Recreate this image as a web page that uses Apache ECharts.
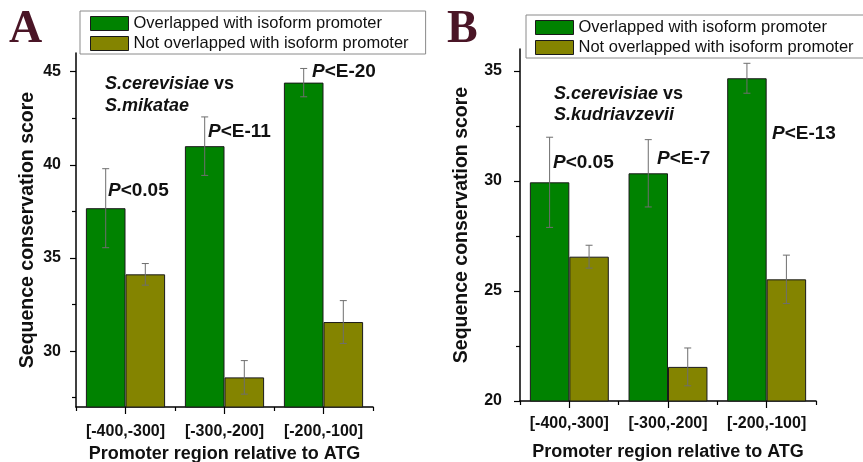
<!DOCTYPE html>
<html>
<head>
<meta charset="utf-8">
<script src="https://cdn.jsdelivr.net/npm/echarts@6/dist/echarts.min.js"></script>
<style>
  html, body { margin: 0; padding: 0; background: #fff; }
  #chart { width: 863px; height: 462px; }
</style>
</head>
<body>
<div id="chart"></div>
<script>
// Promoter windows relative to the start codon
const categories = ['[-400,-300]', '[-300,-200]', '[-200,-100]'];
const seriesNames = ['Overlapped with isoform promoter', 'Not overlapped with isoform promoter'];

// Panel A: S.cerevisiae vs S.mikatae (mean score and error)
const mikataeOverlap = [37.67, 41.0, 44.41];
const mikataeOverlapErr = [2.12, 1.57, 0.76];
const mikataeNot = [34.12, 28.59, 31.56];
const mikataeNotErr = [0.58, 0.9, 1.15];

// Panel B: S.cerevisiae vs S.kudriavzevii (mean score and error)
const kudriOverlap = [29.94, 30.35, 34.67];
const kudriOverlapErr = [2.05, 1.53, 0.68];
const kudriNot = [26.56, 21.55, 25.53];
const kudriNotErr = [0.52, 0.86, 1.1];

// Value-axis ticks
const ticksA = [30, 35, 40, 45];
const minorTicksA = [27.5, 32.5, 37.5, 42.5];
const ticksB = [20, 25, 30, 35];
const minorTicksB = [22.5, 27.5, 32.5];

// Significance of the difference in each window
const pValuesA = ['<0.05', '<E-11', '<E-20'];
const pValuesB = ['<0.05', '<E-7', '<E-13'];

const FONT = '"Liberation Sans", Arial, sans-serif';
const GREEN = '#008200';
const OLIVE = '#848400';
const INK = '#111';

const chart = echarts.init(document.getElementById('chart'), null, { renderer: 'canvas' });

function mainXAxis(gridIndex, labelMargin, nameGap) {
  return {
    type: 'category', gridIndex, data: categories, position: 'bottom',
    axisLine: { lineStyle: { color: '#000', width: 1.5 } },
    axisTick: { show: true, interval: 0, alignWithLabel: true, length: 7, lineStyle: { color: '#000', width: 1.2 } },
    axisLabel: { interval: 0, fontFamily: FONT, fontWeight: 'bold', fontSize: 16, color: INK, margin: labelMargin },
    name: 'Promoter region relative to ATG', nameLocation: 'middle', nameGap,
    nameTextStyle: { fontFamily: FONT, fontWeight: 'bold', fontSize: 18, color: INK },
    splitLine: { show: false }
  };
}
// Shorter ticks on the category boundaries
function boundaryXAxis(gridIndex) {
  return {
    type: 'category', gridIndex, data: categories, position: 'bottom',
    axisLine: { show: false },
    axisTick: { show: true, interval: 0, alignWithLabel: false, length: 4, lineStyle: { color: '#000', width: 1.2 } },
    axisLabel: { show: false, interval: 0 }, splitLine: { show: false }
  };
}
function mainYAxis(gridIndex, min, max, ticks, labelMargin, nameGap) {
  return {
    type: 'value', gridIndex, min, max, position: 'left',
    axisLine: { show: true, lineStyle: { color: '#000', width: 1.5 } },
    axisTick: { show: true, customValues: ticks, length: 6, lineStyle: { color: '#000', width: 1.2 } },
    axisLabel: { customValues: ticks, fontFamily: FONT, fontWeight: 'bold', fontSize: 16, color: INK, margin: labelMargin },
    splitLine: { show: false },
    name: 'Sequence conservation score', nameLocation: 'middle', nameGap,
    nameTextStyle: { fontFamily: FONT, fontWeight: 'bold', fontSize: 19.5, color: INK }
  };
}
function minorYAxis(gridIndex, min, max, ticks) {
  return {
    type: 'value', gridIndex, min, max, position: 'left',
    axisLine: { show: false },
    axisTick: { show: true, customValues: ticks, length: 4, lineStyle: { color: '#000', width: 1.2 } },
    axisLabel: { show: false }, splitLine: { show: false }
  };
}

function barSeries(name, axisIdx, values, color) {
  return {
    name, type: 'bar', xAxisIndex: axisIdx, yAxisIndex: axisIdx,
    data: values, barGap: '0%', barCategoryGap: '20%',
    itemStyle: { color, borderColor: '#1a1a1a', borderWidth: 1 },
    emphasis: { disabled: true }, animation: false
  };
}

// Error bars drawn over the bars; side -1 = left bar of a pair, +1 = right bar
function errorSeries(axisIdx, means, errs, side) {
  return {
    type: 'custom', xAxisIndex: axisIdx, yAxisIndex: axisIdx, z: 10, silent: true, animation: false,
    encode: { x: 0, y: 1 },
    data: means.map((m, i) => [i, m, errs[i]]),
    renderItem(params, api) {
      const i = api.value(0), m = api.value(1), e = api.value(2);
      const band = api.size([1, 0])[0];
      const x = api.coord([i, m])[0] + side * band * 0.2;
      const yTop = api.coord([i, m + e])[1];
      const yBot = api.coord([i, m - e])[1];
      const cap = 3.5;
      const style = { stroke: '#6e6e6e', lineWidth: 1 };
      return {
        type: 'group',
        children: [
          { type: 'line', shape: { x1: x, y1: yTop, x2: x, y2: yBot }, style },
          { type: 'line', shape: { x1: x - cap, y1: yTop, x2: x + cap, y2: yTop }, style },
          { type: 'line', shape: { x1: x - cap, y1: yBot, x2: x + cap, y2: yBot }, style }
        ]
      };
    }
  };
}

function legend(left, top, padding) {
  return {
    left, top, orient: 'vertical', selectedMode: false, icon: 'rect',
    borderColor: '#8a8a8a', borderWidth: 1, padding,
    itemWidth: 38, itemHeight: 14, itemGap: 3,
    itemStyle: { borderColor: '#1a1a1a', borderWidth: 1 },
    textStyle: { fontFamily: FONT, fontSize: 16.5, color: INK, lineHeight: 17 },
    data: seriesNames
  };
}

const richP = {
  p: { fontFamily: FONT, fontWeight: 'bold', fontStyle: 'italic', fontSize: 19, fill: INK },
  t: { fontFamily: FONT, fontWeight: 'bold', fontSize: 19, fill: INK }
};
const richS = {
  i: { fontFamily: FONT, fontWeight: 'bold', fontStyle: 'italic', fontSize: 18, fill: INK },
  n: { fontFamily: FONT, fontWeight: 'bold', fontSize: 18, fill: INK }
};
function pText(x, y, value) {
  return { type: 'text', x, y, z: 20, style: { text: '{p|P}{t|' + value + '}', rich: richP, verticalAlign: 'middle' } };
}
function sText(x, y, text) {
  return { type: 'text', x, y, z: 20, style: { text, rich: richS, verticalAlign: 'middle' } };
}
function panelLetter(x, y, letter) {
  return { type: 'text', x, y, style: { text: letter, font: 'bold 46px "Liberation Serif", "Times New Roman", serif', fill: '#4a1526', verticalAlign: 'top' } };
}

const option = {
  backgroundColor: '#fff',
  animation: false,
  grid: [
    { left: 76, top: 53, width: 297, height: 354, containLabel: false, outerBoundsMode: 'none' },
    { left: 520, top: 49, width: 296, height: 352, containLabel: false, outerBoundsMode: 'none' }
  ],
  xAxis: [
    mainXAxis(0, 17, 37), boundaryXAxis(0),
    mainXAxis(1, 15, 42), boundaryXAxis(1)
  ],
  yAxis: [
    mainYAxis(0, 27, 46, ticksA, 15, 38), minorYAxis(0, 27, 46, minorTicksA),
    mainYAxis(1, 20, 36, ticksB, 18, 48), minorYAxis(1, 20, 36, minorTicksB)
  ],
  legend: [
    legend(80, 11, [4, 17, 2, 10]),
    legend(526, 15, [4, 10, 2, 9])
  ],
  series: [
    barSeries(seriesNames[0], 0, mikataeOverlap, GREEN),
    barSeries(seriesNames[1], 0, mikataeNot, OLIVE),
    errorSeries(0, mikataeOverlap, mikataeOverlapErr, -1),
    errorSeries(0, mikataeNot, mikataeNotErr, 1),
    barSeries(seriesNames[0], 2, kudriOverlap, GREEN),
    barSeries(seriesNames[1], 2, kudriNot, OLIVE),
    errorSeries(2, kudriOverlap, kudriOverlapErr, -1),
    errorSeries(2, kudriNot, kudriNotErr, 1)
  ],
  graphic: [
    panelLetter(9, 7, 'A'),
    panelLetter(447, 7, 'B'),
    sText(105, 84, '{i|S.cerevisiae}{n| vs}'),
    sText(105, 106, '{i|S.mikatae}'),
    pText(108, 191, pValuesA[0]),
    pText(208, 132, pValuesA[1]),
    pText(312, 72, pValuesA[2]),
    sText(554, 94, '{i|S.cerevisiae}{n| vs}'),
    sText(554, 115, '{i|S.kudriavzevii}'),
    pText(553, 163, pValuesB[0]),
    pText(657, 159, pValuesB[1]),
    pText(772, 134, pValuesB[2])
  ]
};

chart.setOption(option);
</script>
</body>
</html>
